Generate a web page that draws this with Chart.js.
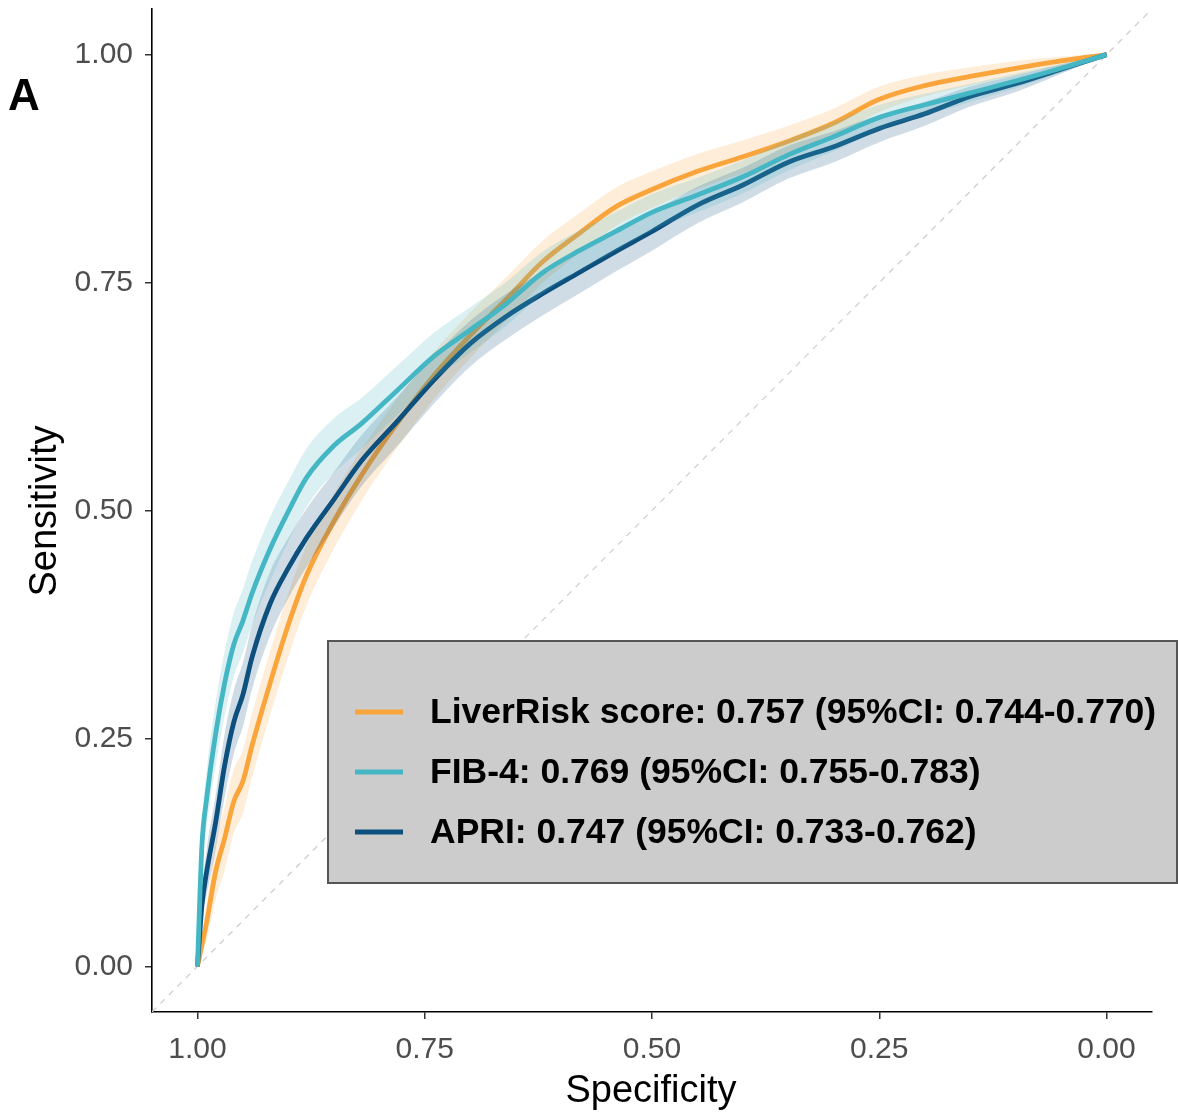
<!DOCTYPE html>
<html>
<head>
<meta charset="utf-8">
<script src="https://cdn.jsdelivr.net/npm/chart.js@4"></script>
<style>
  html, body { margin: 0; padding: 0; background: #ffffff; }
  #c { display: block; }
</style>
</head>
<body>
<canvas id="c" width="1178" height="1115"></canvas>
<script>
// ---------------- DATA ----------------
const specificity = [1.00, 0.995, 0.99, 0.98, 0.97, 0.96, 0.95, 0.94, 0.92, 0.90, 0.88, 0.85, 0.82, 0.78, 0.74, 0.70, 0.66, 0.62, 0.58, 0.54, 0.50, 0.45, 0.40, 0.35, 0.30, 0.25, 0.20, 0.15, 0.10, 0.05, 0.00];

const liverRiskSens = [0, 0.024, 0.048, 0.104, 0.141, 0.181, 0.203, 0.242, 0.311, 0.375, 0.429, 0.488, 0.538, 0.596, 0.648, 0.692, 0.732, 0.773, 0.804, 0.833, 0.852, 0.872, 0.888, 0.905, 0.925, 0.951, 0.966, 0.976, 0.985, 0.993, 1.0];
const liverRiskLo   = [0, 0.014, 0.028, 0.074, 0.106, 0.146, 0.168, 0.207, 0.276, 0.340, 0.396, 0.458, 0.510, 0.569, 0.622, 0.667, 0.708, 0.750, 0.782, 0.812, 0.832, 0.853, 0.870, 0.888, 0.909, 0.937, 0.954, 0.966, 0.977, 0.988, 1.0];
const liverRiskHi   = [0, 0.034, 0.068, 0.134, 0.176, 0.216, 0.238, 0.277, 0.346, 0.410, 0.462, 0.518, 0.566, 0.623, 0.674, 0.717, 0.756, 0.796, 0.826, 0.854, 0.872, 0.891, 0.906, 0.922, 0.941, 0.965, 0.978, 0.986, 0.993, 0.998, 1.0];

const fib4Sens = [0, 0.134, 0.183, 0.255, 0.311, 0.353, 0.379, 0.409, 0.458, 0.499, 0.536, 0.571, 0.595, 0.632, 0.669, 0.698, 0.727, 0.761, 0.785, 0.806, 0.827, 0.846, 0.866, 0.890, 0.910, 0.931, 0.945, 0.958, 0.971, 0.985, 1.0];
const fib4Lo   = [0, 0.114, 0.153, 0.220, 0.276, 0.318, 0.344, 0.374, 0.423, 0.466, 0.504, 0.541, 0.567, 0.605, 0.643, 0.673, 0.703, 0.738, 0.763, 0.785, 0.807, 0.827, 0.848, 0.873, 0.894, 0.917, 0.933, 0.948, 0.963, 0.980, 1.0];
const fib4Hi   = [0, 0.154, 0.213, 0.290, 0.346, 0.388, 0.414, 0.444, 0.493, 0.532, 0.568, 0.601, 0.623, 0.659, 0.695, 0.723, 0.751, 0.784, 0.807, 0.827, 0.847, 0.865, 0.884, 0.907, 0.926, 0.945, 0.957, 0.968, 0.979, 0.990, 1.0];

const apriSens = [0, 0.068, 0.103, 0.158, 0.221, 0.268, 0.298, 0.339, 0.398, 0.437, 0.470, 0.512, 0.554, 0.598, 0.643, 0.683, 0.713, 0.738, 0.761, 0.784, 0.806, 0.835, 0.857, 0.882, 0.899, 0.919, 0.935, 0.954, 0.968, 0.984, 1.0];
const apriLo   = [0, 0.053, 0.078, 0.128, 0.186, 0.233, 0.263, 0.304, 0.363, 0.404, 0.438, 0.482, 0.526, 0.571, 0.617, 0.658, 0.688, 0.714, 0.738, 0.762, 0.785, 0.815, 0.838, 0.864, 0.882, 0.904, 0.922, 0.943, 0.959, 0.979, 1.0];
const apriHi   = [0, 0.083, 0.128, 0.188, 0.256, 0.303, 0.333, 0.374, 0.433, 0.470, 0.502, 0.542, 0.582, 0.625, 0.669, 0.708, 0.738, 0.762, 0.784, 0.806, 0.827, 0.855, 0.876, 0.900, 0.916, 0.934, 0.948, 0.965, 0.977, 0.989, 1.0];

// chance line: sensitivity = 1 - specificity, across the whole panel
const diagonalX = [1.05, -0.05];
const diagonalY = [-0.05, 1.05];

const tickValues = [0, 0.25, 0.5, 0.75, 1];
const tickLabels = ['0.00', '0.25', '0.50', '0.75', '1.00'];

const legendLabels = [
  'LiverRisk score: 0.757 (95%CI: 0.744-0.770)',
  'FIB-4: 0.769 (95%CI: 0.755-0.783)',
  'APRI: 0.747 (95%CI: 0.733-0.762)'
];
const xTitle = 'Specificity';
const yTitle = 'Sensitivity';
const panelTag = 'A';

// ---------------- STYLE ----------------
const C_ORANGE = '#F9A53C';
const C_TEAL = '#45B6C3';
const C_DARK = '#0D4F7D';
const F_ORANGE = 'rgba(249,165,60,0.20)';
const F_TEAL = 'rgba(69,182,195,0.20)';
const F_DARK = 'rgba(13,79,125,0.20)';
const FONT = '"Liberation Sans", Arial, sans-serif';

function pts(ys) { return specificity.map((s, i) => ({ x: s, y: ys[i] })); }

const lineBase = { borderWidth: 4.8, pointRadius: 0, cubicInterpolationMode: 'monotone', fill: false, borderCapStyle: 'butt', borderJoinStyle: 'round' };
const bandBase = { borderWidth: 0, pointRadius: 0, cubicInterpolationMode: 'monotone', borderColor: 'rgba(0,0,0,0)' };

const datasets = [
  { data: diagonalX.map((x, i) => ({ x: x, y: diagonalY[i] })), borderColor: '#CFCFCF', borderWidth: 1.3, borderDash: [6, 6], pointRadius: 0, fill: false, order: 20 },
  Object.assign({ data: pts(liverRiskHi), fill: '+1', backgroundColor: F_ORANGE, order: 19 }, bandBase),
  Object.assign({ data: pts(liverRiskLo), fill: false, order: 19 }, bandBase),
  Object.assign({ data: pts(liverRiskSens), borderColor: C_ORANGE, order: 18 }, lineBase),
  Object.assign({ data: pts(apriHi), fill: '+1', backgroundColor: F_DARK, order: 17 }, bandBase),
  Object.assign({ data: pts(apriLo), fill: false, order: 17 }, bandBase),
  Object.assign({ data: pts(apriSens), borderColor: C_DARK, order: 16 }, lineBase),
  Object.assign({ data: pts(fib4Hi), fill: '+1', backgroundColor: F_TEAL, order: 15 }, bandBase),
  Object.assign({ data: pts(fib4Lo), fill: false, order: 15 }, bandBase),
  Object.assign({ data: pts(fib4Sens), borderColor: C_TEAL, order: 14 }, lineBase)
];

const overlay = {
  id: 'overlay',
  afterDraw(chart) {
    const ctx = chart.ctx;
    ctx.save();
    ctx.fillStyle = '#000';
    ctx.font = 'bold 44px ' + FONT;
    ctx.textAlign = 'left';
    ctx.textBaseline = 'alphabetic';
    ctx.fillText(panelTag, 8, 110);
    ctx.font = '38px ' + FONT;
    ctx.textAlign = 'center';
    ctx.fillText(xTitle, 651, 1102);
    ctx.save();
    ctx.translate(56, 511);
    ctx.rotate(-Math.PI / 2);
    ctx.fillText(yTitle, 0, 0);
    ctx.restore();
    ctx.fillStyle = '#CCCCCC';
    ctx.fillRect(327, 640, 851, 244);
    ctx.strokeStyle = '#555555';
    ctx.lineWidth = 2;
    ctx.strokeRect(328, 641, 849, 242);
    const cols = [C_ORANGE, C_TEAL, C_DARK];
    const ys = [712, 772, 832];
    ctx.font = 'bold 35.5px ' + FONT;
    ctx.textAlign = 'left';
    ctx.textBaseline = 'middle';
    for (let i = 0; i < 3; i++) {
      ctx.strokeStyle = cols[i];
      ctx.lineWidth = 5;
      ctx.beginPath();
      ctx.moveTo(355, ys[i]);
      ctx.lineTo(403, ys[i]);
      ctx.stroke();
      ctx.fillStyle = '#000';
      ctx.fillText(legendLabels[i], 430, ys[i] + 1);
    }
    ctx.restore();
  }
};

const tickFont = { family: FONT, size: 30 };

new Chart(document.getElementById('c'), {
  type: 'line',
  data: { datasets: datasets },
  options: {
    responsive: false,
    animation: false,
    devicePixelRatio: 1,
    layout: { padding: { top: 9, right: 26, left: 0, bottom: 0 } },
    plugins: { legend: { display: false }, tooltip: { enabled: false }, filler: { propagate: false } },
    scales: {
      x: {
        type: 'linear', reverse: true, min: -0.05, max: 1.05,
        afterFit: s => { s.height = 103; s.paddingLeft = 0; s.paddingRight = 0; },
        afterBuildTicks: s => { s.ticks = tickValues.map(v => ({ value: v })); },
        ticks: { font: tickFont, color: '#4D4D4D', padding: 13, maxRotation: 0, autoSkip: false,
                 callback: (v) => tickLabels[tickValues.indexOf(v)] },
        grid: { display: true, drawOnChartArea: false, drawTicks: true, tickLength: 7, tickWidth: 1.5, color: '#333333', lineWidth: 1.5 },
        border: { display: true, color: '#000000', width: 1.6 }
      },
      y: {
        type: 'linear', min: -0.05, max: 1.05,
        afterFit: s => { s.width = 152; s.paddingTop = 0; s.paddingBottom = 0; },
        afterBuildTicks: s => { s.ticks = tickValues.map(v => ({ value: v })); },
        ticks: { font: tickFont, color: '#4D4D4D', padding: 12, autoSkip: false,
                 callback: (v) => tickLabels[tickValues.indexOf(v)] },
        grid: { display: true, drawOnChartArea: false, drawTicks: true, tickLength: 7, tickWidth: 1.5, color: '#333333', lineWidth: 1.5 },
        border: { display: true, color: '#000000', width: 1.6 }
      }
    }
  },
  plugins: [overlay]
});
</script>
</body>
</html>
